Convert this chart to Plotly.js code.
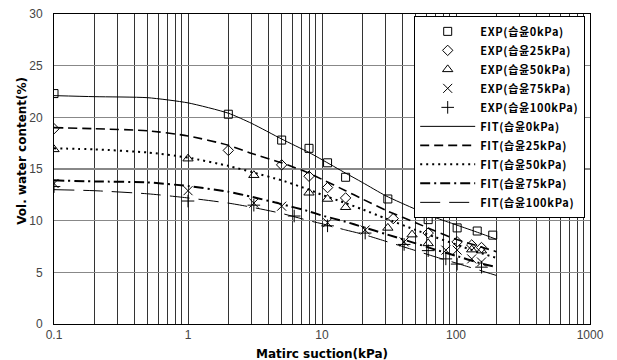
<!DOCTYPE html>
<html>
<head>
<meta charset="utf-8">
<script src="https://cdn.plot.ly/plotly-3.0.1.min.js"></script>
<style>
html,body{margin:0;padding:0;background:#fff;}
#chart{width:617px;height:360px;}
.legendtext{letter-spacing:0.7px;}
</style>
</head>
<body>
<div id="chart"></div>
<script>
// Experimental data (suction kPa, volumetric water content %)
const exp0X = [0.1, 2, 5, 8, 11, 15, 31, 62, 102, 144, 188];
const exp0Y = [22.3, 20.3, 17.8, 17.0, 15.6, 14.2, 12.1, 10.1, 9.3, 9.0, 8.6];
const exp25X = [0.1, 2, 5, 8, 11, 15, 34, 62, 102, 131, 155];
const exp25Y = [18.9, 16.8, 15.4, 14.3, 13.2, 12.2, 10.2, 8.8, 7.95, 7.65, 7.4];
const exp50X = [0.1, 1, 3.1, 8, 11, 15, 31, 47, 62, 131, 155];
const exp50Y = [16.9, 16.0, 14.4, 12.7, 12.1, 11.3, 9.3, 8.65, 7.8, 7.2, 7.1];
const exp75X = [0.1, 1, 3.1, 5, 11, 21, 41, 84, 102, 131, 155];
const exp75Y = [13.6, 12.9, 11.7, 11.4, 9.8, 9.1, 7.95, 7.15, 7.15, 6.3, 6.0];
const exp100X = [0.1, 1, 3.1, 6.2, 11, 21, 41, 62, 84, 102, 155];
const exp100Y = [13.3, 11.9, 11.5, 10.45, 9.5, 8.8, 7.7, 7.1, 6.3, 5.8, 5.5];

// Fitted curves
const fitX = [0.1, 0.2, 0.5, 1, 2, 3, 5, 8, 10, 15, 20, 30, 50, 70, 100, 150, 200];
const fit0Y = [22.1, 22.0, 21.9, 21.4, 20.4, 19.4, 17.9, 16.6, 15.9, 14.6, 13.7, 12.4, 11.1, 10.3, 9.6, 8.8, 8.2];
const fit25Y = [19.0, 18.9, 18.7, 18.2, 17.3, 16.5, 15.6, 14.6, 14.0, 12.9, 12.1, 11.0, 9.8, 9.0, 8.2, 7.5, 7.0];
const fit50Y = [17.0, 16.9, 16.6, 16.1, 15.3, 14.7, 13.9, 13.0, 12.5, 11.7, 11.1, 10.2, 9.1, 8.4, 7.7, 6.9, 6.4];
const fit75Y = [13.9, 13.8, 13.7, 13.35, 12.8, 12.3, 11.6, 10.9, 10.5, 9.9, 9.4, 8.7, 7.8, 7.2, 6.6, 5.9, 5.5];
const fit100Y = [13.0, 12.9, 12.6, 12.2, 11.7, 11.3, 10.7, 10.0, 9.7, 9.1, 8.7, 8.0, 7.1, 6.5, 5.9, 5.2, 4.7];

const expNames = ['EXP(습윤0kPa)', 'EXP(습윤25kPa)', 'EXP(습윤50kPa)', 'EXP(습윤75kPa)', 'EXP(습윤100kPa)'];
const fitNames = ['FIT(습윤0kPa)', 'FIT(습윤25kPa)', 'FIT(습윤50kPa)', 'FIT(습윤75kPa)', 'FIT(습윤100kPa)'];

const xTitle = 'Matirc suction(kPa)';
const yTitle = 'Vol. water content(%)';

const decadeLabels = ['0.1', '1', '10', '100', '1000'];
const decades = [0.1, 1, 10, 100];

// log grid positions (1..9 x decade) with labels only on decades
const tickvals = [];
const ticktext = [];
decades.forEach((d, i) => {
  for (let m = 1; m <= 9; m++) {
    tickvals.push(+(d * m).toPrecision(3));
    ticktext.push(m === 1 ? decadeLabels[i] : '');
  }
});
tickvals.push(1000);
ticktext.push(decadeLabels[4]);

const expX = [exp0X, exp25X, exp50X, exp75X, exp100X];
const expY = [exp0Y, exp25Y, exp50Y, exp75Y, exp100Y];
const symbols = ['square-open', 'diamond-open', 'triangle-up-open', 'x-thin-open', 'cross-thin-open'];
const sizes = [8, 8, 9, 9, 9];

const fitY = [fit0Y, fit25Y, fit50Y, fit75Y, fit100Y];
const dashes = ['solid', '9px,5px', '2px,4px', '10px,4px,2px,4px', '20px,9px'];
const widths = [1, 1.6, 2, 2, 1];

const traces = [];
for (let i = 0; i < 5; i++) {
  traces.push({
    x: expX[i], y: expY[i], name: expNames[i], type: 'scatter', mode: 'markers',
    marker: {symbol: symbols[i], size: sizes[i], color: 'black', line: {color: 'black', width: 1}}
  });
}
for (let i = 0; i < 5; i++) {
  traces.push({
    x: fitX, y: fitY[i], name: fitNames[i], type: 'scatter', mode: 'lines',
    line: {color: 'black', width: widths[i], dash: dashes[i], shape: 'spline', smoothing: 0.6}
  });
}

const titleFont = {family: 'DejaVu Sans, sans-serif', size: 12, color: 'black', weight: 'bold'};

const layout = {
  width: 617, height: 360,
  margin: {l: 54, r: 27, t: 14, b: 36},
  paper_bgcolor: 'white', plot_bgcolor: 'white',
  showlegend: true,
  xaxis: {
    type: 'log', range: [-1, 3], tickmode: 'array', tickvals: tickvals, ticktext: ticktext,
    showgrid: true, gridcolor: '#333', gridwidth: 1, zeroline: false,
    showline: true, linecolor: 'black', linewidth: 1, mirror: true, ticks: '',
    tickfont: {family: 'Liberation Sans, Arial, sans-serif', size: 12, color: '#444'}
  },
  yaxis: {
    range: [0, 30], tickmode: 'linear', tick0: 0, dtick: 5,
    showgrid: true, gridcolor: '#888', gridwidth: 1.5, zeroline: false,
    showline: true, linecolor: 'black', linewidth: 1, mirror: true, ticks: '',
    ticklabelstandoff: 8,
    tickfont: {family: 'Liberation Sans, Arial, sans-serif', size: 12, color: '#444'}
  },
  annotations: [
    {text: xTitle, xref: 'paper', yref: 'paper', x: 0.5, y: -0.097, xanchor: 'center', yanchor: 'middle',
     showarrow: false, font: titleFont},
    {text: yTitle, xref: 'paper', yref: 'paper', x: -0.06, y: 0.558, xanchor: 'center', yanchor: 'middle',
     textangle: -90, showarrow: false, font: titleFont}
  ],
  legend: {
    x: 0.672, y: 0.994, xanchor: 'left', yanchor: 'top',
    bgcolor: 'white', bordercolor: 'black', borderwidth: 1,
    itemwidth: 55, tracegroupgap: 0,
    font: {family: 'Noto Sans CJK KR, sans-serif', size: 11, color: 'black', weight: 'bold'}
  }
};

Plotly.newPlot('chart', traces, layout, {displayModeBar: false, staticPlot: true});
</script>
</body>
</html>
